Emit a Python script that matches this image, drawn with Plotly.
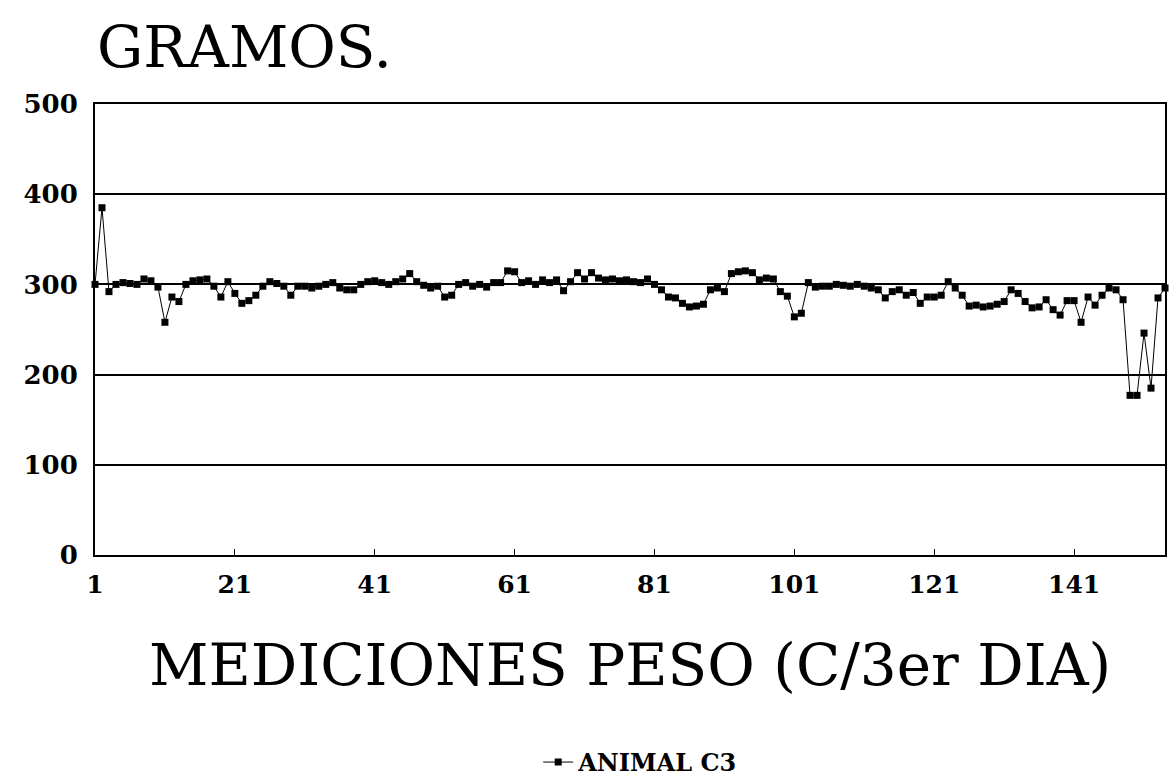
import plotly.graph_objects as go

mediciones = list(range(1, 155))
peso_c3 = [
    300, 385, 292, 300, 302, 301, 300, 306, 304, 297,
    258, 286, 281, 300, 304, 305, 306, 298, 286, 303,
    290, 279, 282, 288, 298, 303, 301, 298, 288, 298,
    298, 296, 298, 300, 302, 296, 294, 294, 300, 303,
    304, 302, 300, 303, 306, 312, 303, 299, 296, 298,
    286, 288, 300, 302, 298, 300, 297, 302, 302, 315,
    314, 302, 304, 300, 305, 302, 305, 293, 303, 313,
    306, 313, 307, 305, 306, 304, 305, 303, 302, 306,
    300, 294, 286, 285, 279, 275, 276, 278, 294, 296,
    292, 312, 314, 315, 313, 305, 307, 306, 292, 287,
    264, 268, 302, 297, 298, 298, 300, 299, 298, 300,
    298, 296, 294, 285, 292, 294, 288, 291, 279, 286,
    286, 288, 303, 296, 288, 276, 277, 275, 276, 278,
    281, 294, 290, 281, 274, 275, 283, 272, 266, 282,
    282, 258, 286, 277, 288, 296, 294, 283, 177, 177,
    246, 185, 285, 296,
]
x_ticks = [1, 21, 41, 61, 81, 101, 121, 141]
y_ticks = [0, 100, 200, 300, 400, 500]

serif = "DejaVu Serif"

fig = go.Figure()
fig.add_trace(go.Scatter(
    x=mediciones, y=peso_c3, mode="lines+markers", name="ANIMAL C3",
    line=dict(color="black", width=1),
    marker=dict(symbol="square", size=7, color="black"),
    cliponaxis=False,
))

fig.update_layout(
    width=1170, height=783,
    paper_bgcolor="white", plot_bgcolor="white",
    margin=dict(l=95, r=5, t=104, b=228, autoexpand=False),
    showlegend=True,
    legend=dict(orientation="h", x=0.51, xanchor="center", y=-0.46, yanchor="middle",
                font=dict(family=serif, size=24, color="black", weight="bold"),
                bgcolor="rgba(0,0,0,0)"),
    font=dict(family=serif, color="black"),
    annotations=[
        dict(text="GRAMOS.", xref="paper", yref="paper", x=0.0, y=1.126,
             xanchor="left", yanchor="middle", showarrow=False,
             font=dict(family=serif, size=58, color="black")),
        dict(text="MEDICIONES PESO (C/3er DIA)", xref="paper", yref="paper",
             x=0.5, y=-0.244, xanchor="center", yanchor="middle", showarrow=False,
             font=dict(family=serif, size=58, color="black")),
    ],
)
fig.update_xaxes(
    range=[1, 154], tickvals=x_ticks, ticktext=[str(v) for v in x_ticks],
    showgrid=False, zeroline=False,
    showline=True, linecolor="black", linewidth=2, mirror=True,
    ticks="inside", ticklen=6, tickcolor="black", tickwidth=1,
    ticklabelstandoff=6,
    tickfont=dict(family=serif, size=25, color="black", weight="bold"),
)
fig.update_yaxes(
    range=[0, 500], tickvals=y_ticks,
    showgrid=True, gridcolor="black", gridwidth=2, zeroline=False,
    showline=True, linecolor="black", linewidth=2, mirror=True,
    ticks="", ticklabelstandoff=10,
    tickfont=dict(family=serif, size=26, color="black", weight="bold"),
)

fig.write_html(
    "out.html",
    config={"displayModeBar": False},
    post_script="document.body.style.margin='0';document.body.style.overflow='hidden';",
)
